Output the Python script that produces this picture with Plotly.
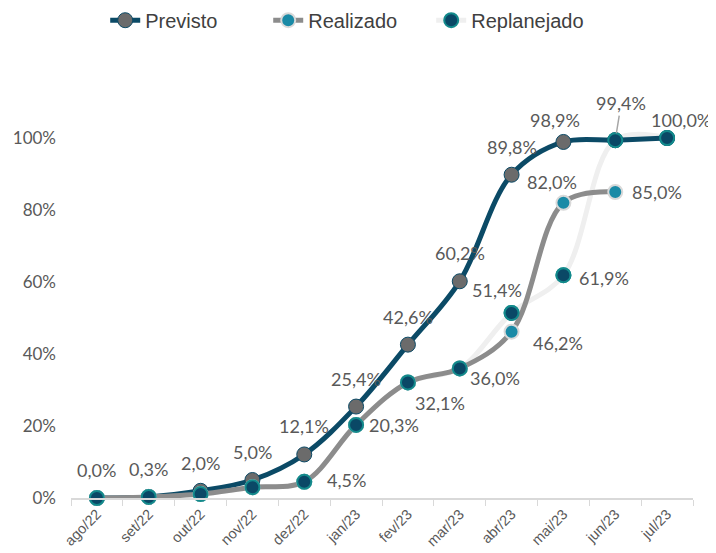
import plotly.graph_objects as go

months = ["ago/22", "set/22", "out/22", "nov/22", "dez/22", "jan/23",
          "fev/23", "mar/23", "abr/23", "mai/23", "jun/23", "jul/23"]

previsto = [0.0, 0.3, 2.0, 5.0, 12.1, 25.4, 42.6, 60.2, 89.8, 98.9, 99.4, 100.0]
realizado = [0.0, 0.3, 1.1, 3.0, 4.5, 20.3, 32.1, 36.0, 46.2, 82.0, 85.0]
replanejado = [0.0, 0.3, 1.1, 3.0, 4.5, 20.3, 32.1, 36.0, 51.4, 61.9, 99.4, 100.0]

# which points get a data label (index into series)
previsto_lbl = [0, 1, 2, 3, 4, 5, 6, 7, 8, 9]
realizado_lbl = [4, 5, 6, 7, 8, 9, 10]
replanejado_lbl = [8, 9, 10, 11]

NAVY = "#0b4a66"
GREY_LINE = "#8c8c8c"
LIGHT_LINE = "#efefef"
TEAL = "#1a8aa6"
LBL = "#595959"
FONT = "Lato"


def pct(v):
    return f"{v:.1f}%".replace(".", ",")


fig = go.Figure()

# replanejado line underneath everything
fig.add_trace(go.Scatter(
    x=months[:len(replanejado)], y=[v / 100 for v in replanejado],
    mode="lines+markers", name="Replanejado",
    line=dict(color=LIGHT_LINE, width=5, shape="spline", smoothing=1),
    marker=dict(size=14, color="#0a4866", line=dict(color="#138a8c", width=2)),
    cliponaxis=False, hoverinfo="skip",
))
fig.add_trace(go.Scatter(
    x=months[:len(previsto)], y=[v / 100 for v in previsto],
    mode="lines+markers", name="Previsto",
    line=dict(color=NAVY, width=5, shape="spline", smoothing=1),
    marker=dict(size=15, color="#6b6b6b", line=dict(color=NAVY, width=1)),
    cliponaxis=False,
))
fig.add_trace(go.Scatter(
    x=months[:len(realizado)], y=[v / 100 for v in realizado],
    mode="lines+markers", name="Realizado",
    line=dict(color=GREY_LINE, width=5, shape="spline", smoothing=1),
    marker=dict(size=14, color=TEAL, line=dict(color="#d9d9d9", width=2)),
    cliponaxis=False,
))
# replanejado markers on top
fig.add_trace(go.Scatter(
    x=months[:len(replanejado)], y=[v / 100 for v in replanejado],
    mode="markers", showlegend=False,
    marker=dict(size=14, color="#0a4866", line=dict(color="#138a8c", width=2)),
    cliponaxis=False,
))

# label placement offsets (px)
prev_off = {i: (0, 28) for i in previsto_lbl}
prev_off[9] = (-8, 22)
real_off = {4: (42, 2), 5: (38, 0), 6: (32, -21), 7: (35, -10),
            8: (46, -11), 9: (-11, 21), 10: (42, 0)}
repl_off = {8: (-15, 23), 9: (41, -3), 11: (14, 18)}

anns = []
for i in previsto_lbl:
    dx, dy = prev_off[i]
    anns.append(dict(x=months[i], y=previsto[i] / 100, text=pct(previsto[i]),
                     xshift=dx, yshift=dy, showarrow=False))
for i in realizado_lbl:
    dx, dy = real_off[i]
    anns.append(dict(x=months[i], y=realizado[i] / 100, text=pct(realizado[i]),
                     xshift=dx, yshift=dy, showarrow=False))
for i in replanejado_lbl:
    if i == 10:
        anns.append(dict(x=months[i], y=replanejado[i] / 100, text=pct(replanejado[i]),
                         showarrow=True, arrowhead=0, arrowcolor="#a6a6a6",
                         arrowwidth=1.5, ax=6, ay=-37, standoff=7))
        continue
    dx, dy = repl_off[i]
    anns.append(dict(x=months[i], y=replanejado[i] / 100, text=pct(replanejado[i]),
                     xshift=dx, yshift=dy, showarrow=False))
for a in anns:
    a["font"] = dict(family=FONT, size=18, color=LBL)

# page body adds an 8px offset, so the figure is 8px smaller and shifted
fig.update_layout(
    width=708, height=545,
    margin=dict(l=63, r=23, t=58, b=55, autoexpand=False),
    plot_bgcolor="white", paper_bgcolor="white",
    annotations=anns,
    showlegend=True,
    legend=dict(orientation="h", x=0.055, xanchor="left", y=1.106, yanchor="middle",
                font=dict(family="Liberation Sans", size=20, color="#404040"),
                traceorder="normal", entrywidth=118, entrywidthmode="pixels"),
    xaxis=dict(type="category", categoryorder="array", categoryarray=months,
               range=[-0.5, 11.5], tickson="boundaries", ticks="outside",
               ticklen=6, tickcolor="#d9d9d9", showline=True, linecolor="#d9d9d9",
               linewidth=2, showgrid=False, tickangle=-45, automargin=False,
               tickfont=dict(family="Liberation Sans", size=14.5, color=LBL)),
    yaxis=dict(range=[0, 1.2], tickvals=[0, 0.2, 0.4, 0.6, 0.8, 1.0],
               tickformat=".0%", showgrid=False, zeroline=False, showline=False,
               ticklabelstandoff=14, automargin=False,
               tickfont=dict(family=FONT, size=17, color=LBL)),
)
# legend order: Previsto, Realizado, Replanejado
fig.data[0].legendrank = 3
fig.data[1].legendrank = 1
fig.data[2].legendrank = 2

fig.write_html("out.html")
